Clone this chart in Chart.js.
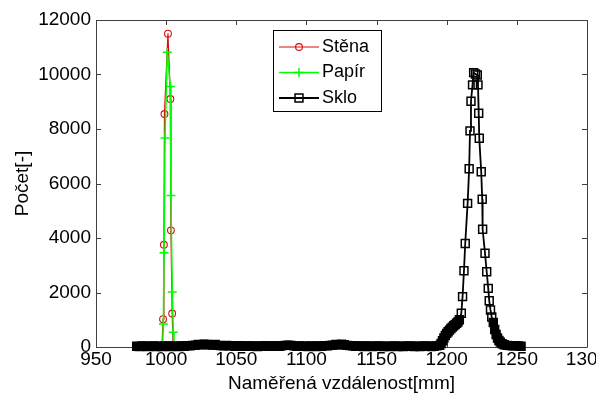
<!DOCTYPE html>
<html>
<head>
<meta charset="utf-8">
<script src="https://cdn.jsdelivr.net/npm/chart.js@4.4.0/dist/chart.umd.min.js"></script>
<style>
  html, body { margin: 0; padding: 0; background: #fff; }
  canvas { display: block; }
</style>
</head>
<body>
<canvas id="histChart" width="596" height="401"></canvas>
<script>
// Naměřené vzdálenosti pro tři povrchy
const seriesNames = ['Stěna', 'Papír', 'Sklo'];

const stenaX = [997, 997.8, 998.4, 998.8, 1001.3, 1003, 1003.4, 1004.3, 1005];
const stenaY = [0, 1020, 3750, 8550, 11500, 9100, 4280, 1230, 0];

const papirX = [997.5, 998, 998.5, 999.2, 1000.8, 1003, 1003.4, 1004.4, 1005.1, 1005.6];
const papirY = [0, 840, 3460, 7670, 10820, 9560, 5560, 2020, 540, 0];

const skloX = [
  979, 981, 983, 985, 987, 989, 991, 993, 995, 997,
  999, 1001, 1003, 1005, 1007, 1009, 1011, 1013, 1015, 1017,
  1019, 1021, 1023, 1025, 1027, 1029, 1031, 1033, 1035, 1037,
  1039, 1041, 1043, 1045, 1047, 1049, 1051, 1053, 1055, 1057,
  1059, 1061, 1063, 1065, 1067, 1069, 1071, 1073, 1075, 1077,
  1079, 1081, 1083, 1085, 1087, 1089, 1091, 1093, 1095, 1097,
  1099, 1101, 1103, 1105, 1107, 1109, 1111, 1113, 1115, 1117,
  1119, 1121, 1123, 1125, 1127, 1129, 1131, 1133, 1135, 1137,
  1139, 1141, 1143, 1145, 1147, 1149, 1151, 1153, 1155, 1157,
  1159, 1161, 1163, 1165, 1167, 1169, 1171, 1173, 1175, 1177,
  1179, 1181, 1183, 1185, 1187, 1189, 1191, 1193,
  1195, 1196, 1197, 1198, 1199, 1200, 1201, 1202, 1203, 1204,
  1205, 1206, 1207, 1208, 1209, 1210.4, 1211.3, 1212.3, 1213.2, 1214.9,
  1216, 1216.6, 1217.3, 1218.4, 1219.2, 1220.5, 1221.8, 1222.3, 1222.8, 1223.2,
  1224.6, 1225.3, 1225.6, 1227.3, 1228.5, 1229.6, 1230.3, 1231.2, 1232.1, 1233.2,
  1234.2, 1235.2, 1236.2, 1237.2, 1238.2, 1239.5,
  1241, 1243, 1245, 1247, 1249, 1251, 1253
];
const skloY = [
  30, 20, 40, 30, 20, 30, 40, 20, 30, 20,
  30, 40, 20, 30, 30, 20, 40, 30, 50, 40,
  60, 70, 90, 80, 100, 90, 80, 70, 90, 60,
  50, 40, 60, 40, 50, 30, 40, 50, 30, 40,
  30, 40, 30, 20, 40, 30, 50, 30, 40, 30,
  40, 30, 50, 60, 70, 60, 40, 30, 40, 30,
  30, 20, 40, 30, 20, 40, 30, 50, 40, 60,
  70, 90, 80, 100, 80, 60, 50, 40, 30, 40,
  30, 20, 40, 30, 20, 30, 40, 30, 20, 30,
  20, 30, 40, 20, 30, 20, 30, 40, 30, 20,
  30, 20, 30, 40, 30, 20, 30, 40,
  60, 130, 230, 330, 420, 500, 560, 620, 680, 730,
  780, 820, 870, 920, 1000, 1240, 1850, 2800, 3800, 5270,
  6540, 7930, 9020, 9620, 10070, 10020, 9980, 9620, 8580, 7660,
  6430, 5420, 4320, 3440, 2760, 2150, 1700, 1360, 1100, 900,
  640, 460, 330, 240, 180, 120,
  80, 60, 50, 40, 50, 40, 30
];

const xTicks = [950, 1000, 1050, 1100, 1150, 1200, 1250, 1300];
const yTicks = [0, 2000, 4000, 6000, 8000, 10000, 12000];

const FONT = '"Liberation Sans", Arial, sans-serif';
const toPoints = (xs, ys) => xs.map((x, i) => ({ x, y: ys[i] }));

// ramecek os s dovnitr smerujicimi carkami (jako v MATLABu)
const framePlugin = {
  id: 'frame',
  beforeDatasetsDraw(chart) {
    const { ctx, chartArea: a, scales } = chart;
    ctx.save();
    ctx.strokeStyle = '#404040';
    ctx.lineWidth = 1;
    ctx.beginPath();
    ctx.rect(a.left + 0.5, a.top + 0.5, a.right - a.left, a.bottom - a.top);
    scales.x.ticks.forEach(t => {
      const px = Math.round(scales.x.getPixelForValue(t.value)) + 0.5;
      ctx.moveTo(px, a.bottom); ctx.lineTo(px, a.bottom - 5);
      ctx.moveTo(px, a.top); ctx.lineTo(px, a.top + 5);
    });
    scales.y.ticks.forEach(t => {
      const py = Math.round(scales.y.getPixelForValue(t.value)) + 0.5;
      ctx.moveTo(a.left, py); ctx.lineTo(a.left + 5, py);
      ctx.moveTo(a.right, py); ctx.lineTo(a.right - 5, py);
    });
    ctx.stroke();
    ctx.restore();
  }
};

// legenda v ramecku uvnitr grafu
const boxLegend = {
  id: 'boxLegend',
  afterDraw(chart) {
    const ctx = chart.ctx;
    const bx = 273, by = 30, bw = 108, bh = 81;
    ctx.save();
    ctx.fillStyle = '#fff';
    ctx.fillRect(bx, by, bw, bh);
    ctx.strokeStyle = '#000';
    ctx.lineWidth = 1;
    ctx.strokeRect(bx + 0.5, by + 0.5, bw, bh);
    chart.data.datasets.forEach((ds, i) => {
      const yy = by + 17 + i * 25.5;
      const cx = bx + 26;
      ctx.strokeStyle = ds.borderColor;
      ctx.lineWidth = ds.borderWidth;
      ctx.beginPath();
      ctx.moveTo(bx + 6, yy); ctx.lineTo(bx + 46, yy);
      ctx.stroke();
      ctx.lineWidth = ds.pointBorderWidth;
      ctx.beginPath();
      if (ds.pointStyle === 'circle') {
        ctx.arc(cx, yy, ds.pointRadius, 0, Math.PI * 2);
      } else if (ds.pointStyle === 'cross') {
        ctx.moveTo(cx - ds.pointRadius, yy); ctx.lineTo(cx + ds.pointRadius, yy);
        ctx.moveTo(cx, yy - ds.pointRadius); ctx.lineTo(cx, yy + ds.pointRadius);
      } else {
        const h = ds.pointRadius * Math.SQRT1_2;
        ctx.rect(cx - h, yy - h, 2 * h, 2 * h);
      }
      ctx.stroke();
      ctx.fillStyle = '#000';
      ctx.font = '18px ' + FONT;
      ctx.textBaseline = 'middle';
      ctx.fillText(ds.label, bx + 49, yy);
    });
    ctx.restore();
  }
};

new Chart(document.getElementById('histChart'), {
  type: 'line',
  data: {
    datasets: [
      {
        label: seriesNames[0],
        data: toPoints(stenaX, stenaY),
        borderColor: '#d80c0c',
        borderWidth: 1.2,
        pointStyle: 'circle',
        pointRadius: 3.4,
        pointBorderWidth: 1.1,
        pointBackgroundColor: 'rgba(0,0,0,0)',
        order: 3
      },
      {
        label: seriesNames[1],
        data: toPoints(papirX, papirY),
        borderColor: '#00ff00',
        borderWidth: 1.5,
        pointStyle: 'cross',
        pointRadius: 4.5,
        pointBorderWidth: 1.5,
        pointBackgroundColor: 'rgba(0,0,0,0)',
        order: 2
      },
      {
        label: seriesNames[2],
        data: toPoints(skloX, skloY),
        borderColor: '#000',
        borderWidth: 1.8,
        pointStyle: 'rect',
        pointRadius: 5.6,
        pointBorderWidth: 1.5,
        pointBackgroundColor: c => (c.raw && c.raw.y < 1100 ? '#000' : 'rgba(0,0,0,0)'),
        clip: false,
        order: 1
      }
    ]
  },
  options: {
    responsive: false,
    animation: false,
    layout: { padding: { top: 20, right: 9, left: 0, bottom: 0 } },
    plugins: { legend: { display: false }, tooltip: { enabled: false } },
    scales: {
      x: {
        type: 'linear',
        min: 950,
        max: 1300,
        afterBuildTicks: s => { s.ticks = xTicks.map(v => ({ value: v })); },
        ticks: {
          color: '#000',
          font: { family: FONT, size: 19 },
          padding: 1,
          maxRotation: 0,
          callback: v => String(v)
        },
        grid: { display: false, drawTicks: false },
        border: { display: false },
        title: {
          display: true,
          text: 'Naměřená vzdálenost[mm]',
          color: '#000',
          font: { family: FONT, size: 19 },
          padding: { top: 0, bottom: 6 }
        },
        afterFit: s => { s.height = 54; s.paddingLeft = 0; s.paddingRight = 0; }
      },
      y: {
        min: 0,
        max: 12000,
        afterBuildTicks: s => { s.ticks = yTicks.map(v => ({ value: v })); },
        ticks: {
          color: '#000',
          font: { family: FONT, size: 19 },
          padding: 5,
          callback: v => String(v)
        },
        grid: { display: false, drawTicks: false },
        border: { display: false },
        title: {
          display: true,
          text: 'Počet[-]',
          color: '#000',
          font: { family: FONT, size: 19 },
          padding: { top: 11, bottom: 0 }
        },
        afterFit: s => { s.width = 96; s.paddingTop = 0; s.paddingBottom = 0; }
      }
    }
  },
  plugins: [framePlugin, boxLegend]
});
</script>
</body>
</html>
